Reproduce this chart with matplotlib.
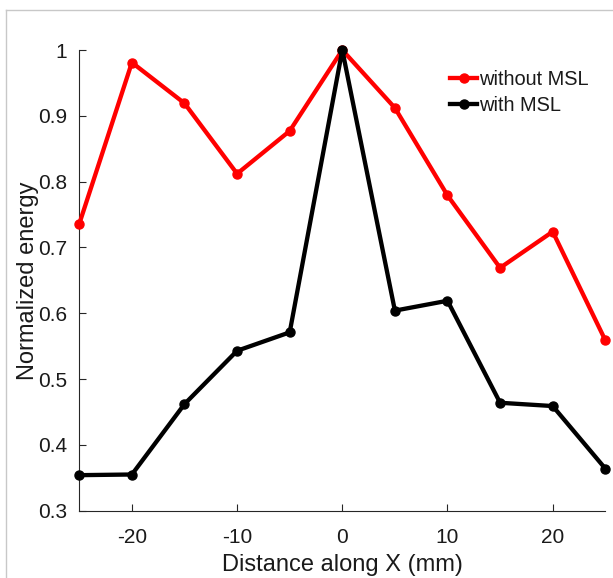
import matplotlib
matplotlib.use("Agg")
import matplotlib.pyplot as plt
from matplotlib.lines import Line2D

plt.rcParams['font.family'] = ['Liberation Sans', 'DejaVu Sans']
plt.rcParams['axes.unicode_minus'] = False

x = [-25, -20, -15, -10, -5, 0, 5, 10, 15, 20, 25]
without_msl = [0.736, 0.981, 0.919, 0.812, 0.877, 1.0, 0.912, 0.779, 0.669, 0.724, 0.559]
with_msl = [0.354, 0.355, 0.462, 0.543, 0.571, 1.0, 0.604, 0.619, 0.464, 0.459, 0.364]
xticks = [-20, -10, 0, 10, 20]
yticks = [0.3, 0.4, 0.5, 0.6, 0.7, 0.8, 0.9, 1.0]
yticklabels = ['0.3', '0.4', '0.5', '0.6', '0.7', '0.8', '0.9', '1']

W, H = 613, 578
fig = plt.figure(figsize=(W / 100, H / 100), dpi=100)
left, right, bottom, top = 79.3, 605.3, 510.7, 50
ax = fig.add_axes([left / W, 1 - bottom / H, (right - left) / W, (bottom - top) / H])

ax.plot(x, without_msl, color='#ff0000', lw=3.1, marker='o', ms=6.5, label='without MSL', clip_on=False, zorder=3)
ax.plot(x, with_msl, color='black', lw=3.1, marker='o', ms=6.5, label='with MSL', clip_on=False, zorder=3)

ax.set_xlim(-25, 25)
ax.set_ylim(0.3, 1.0)
ax.set_xticks(xticks)
ax.set_yticks(yticks)
ax.set_yticklabels(yticklabels)
for s in ['top', 'right']:
    ax.spines[s].set_visible(False)
for s in ['left', 'bottom']:
    ax.spines[s].set_color('#262626')
    ax.spines[s].set_linewidth(0.8)
ax.tick_params(direction='in', length=5, width=0.8, colors='#262626', labelsize=15, labelcolor='#1a1a1a')
ax.tick_params(axis='y', pad=9)
ax.tick_params(axis='x', pad=12.5)
ax.set_xlabel('Distance along X (mm)', fontsize=17, color='#1a1a1a', labelpad=5)
ax.set_ylabel('Normalized energy', fontsize=17, color='#1a1a1a', labelpad=-1)

leg = ax.legend(loc='upper left', bbox_to_anchor=(0.705, 0.957), frameon=False, fontsize=14.4,
                handlelength=1.35, handletextpad=0.1, labelspacing=0.35, borderaxespad=0.0,
                borderpad=0.0)
for t in leg.get_texts():
    t.set_color('#1a1a1a')

# light grey frame remnants of original figure border
fig.add_artist(Line2D([6 / W, 6 / W], [0, 1 - 10 / H], color='#c8c8c8', lw=1.0, transform=fig.transFigure))
fig.add_artist(Line2D([6 / W, 1], [1 - 10 / H, 1 - 10 / H], color='#c8c8c8', lw=1.0, transform=fig.transFigure))

fig.savefig('out.png', dpi=100)
